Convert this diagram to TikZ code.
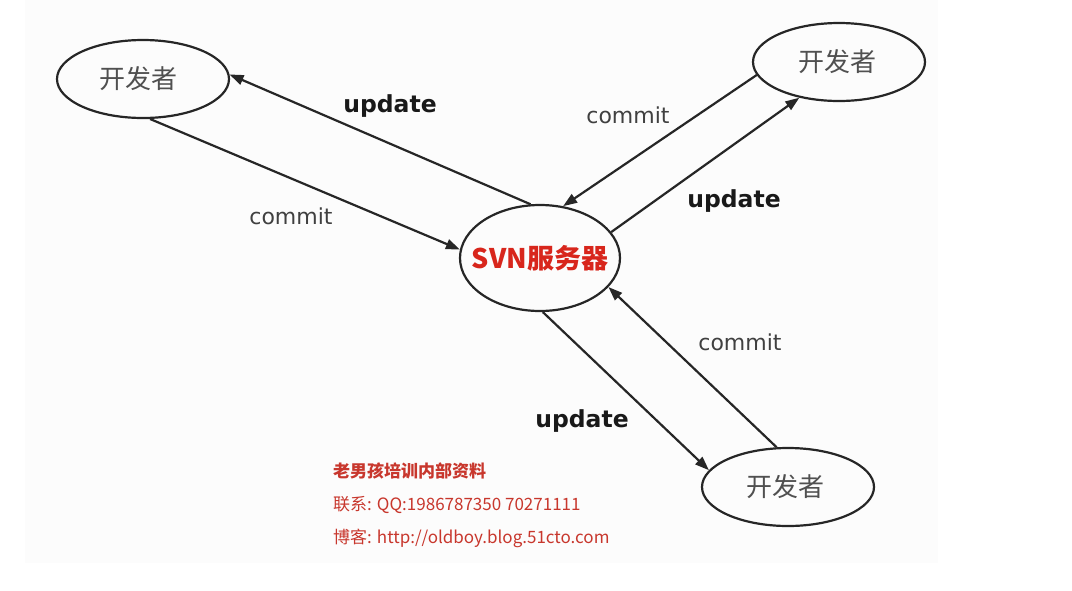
\documentclass[tikz,border=0pt]{standalone}
\usepackage{fontspec}
\setmainfont{DejaVu Sans}
\newfontfamily\cjk{Noto Sans CJK SC}
\usetikzlibrary{shapes.geometric,arrows.meta}
\definecolor{svnred}{HTML}{D8261C}
\definecolor{notered}{HTML}{C8372D}
\definecolor{devgray}{HTML}{505050}
\definecolor{linegray}{HTML}{262626}
\tikzset{
  devnode/.style={ellipse, draw=linegray, line width=2.2pt, minimum width=172pt, minimum height=78pt, inner sep=0pt, font=\cjk\fontsize{26}{28}\selectfont, text=devgray},
  svnnode/.style={ellipse, draw=linegray, line width=2.2pt, minimum width=160pt, minimum height=106pt, inner sep=0pt, font=\cjk\bfseries\fontsize{27}{29}\selectfont, text=svnred},
  conn/.style={draw=linegray, line width=2.2pt, -{Triangle[length=14pt,width=10pt]}},
  upd/.style={font=\bfseries\fontsize{23.5}{25}\selectfont, text=black!90},
  cmt/.style={font=\fontsize{22}{24}\selectfont, text=black!75},
  note/.style={anchor=west, font=\cjk\fontsize{17}{19}\selectfont, text=notered, inner sep=0pt}
}
\begin{document}
\begin{tikzpicture}[x=1pt,y=-1pt]
\useasboundingbox (0,0) rectangle (1072,590);
\fill[black!1] (25,0) rectangle (938,563);
% nodes
\node[devnode] (tl) at (143,79) {\makebox[0pt]{\hspace*{-10pt}开发者}};
\node[devnode] (tr) at (839,62) {\makebox[0pt]{\hspace*{-4pt}开发者}};
\node[devnode] (br) at (788,487) {\makebox[0pt]{\hspace*{-6pt}开发者}};
\node[svnnode] (svn) at (540,258) {\makebox[0pt]{SVN服务器}};
% connectors
\draw[conn] (svn.100) -- (tl.3);
\draw[conn] (tl.-80) -- (svn.174);
\draw[conn] (tr.189) -- (svn.66);
\draw[conn] (svn.20) -- (tr.222);
\draw[conn] (br.106) -- (svn.-23);
\draw[conn] (svn.-87) -- (br.168);
% labels
\node[upd] (l1) at (390,106) {update};
\node[cmt] (l2) at (291,216) {commit};
\node[cmt] (l3) at (628,115) {commit};
\node[upd] (l4) at (734,201) {update};
\node[cmt] (l5) at (740,342) {commit};
\node[upd] (l6) at (582,421) {update};
% note text
\node[note, font=\cjk\bfseries\fontsize{17}{19}\selectfont] (n1) at (333,471) {老男孩培训内部资料};
\node[note] (n2) at (333,505) {联系: QQ:1986787350 70271111};
\node[note] (n3) at (333,538) {博客: http://oldboy.blog.51cto.com};
\end{tikzpicture}
\end{document}
